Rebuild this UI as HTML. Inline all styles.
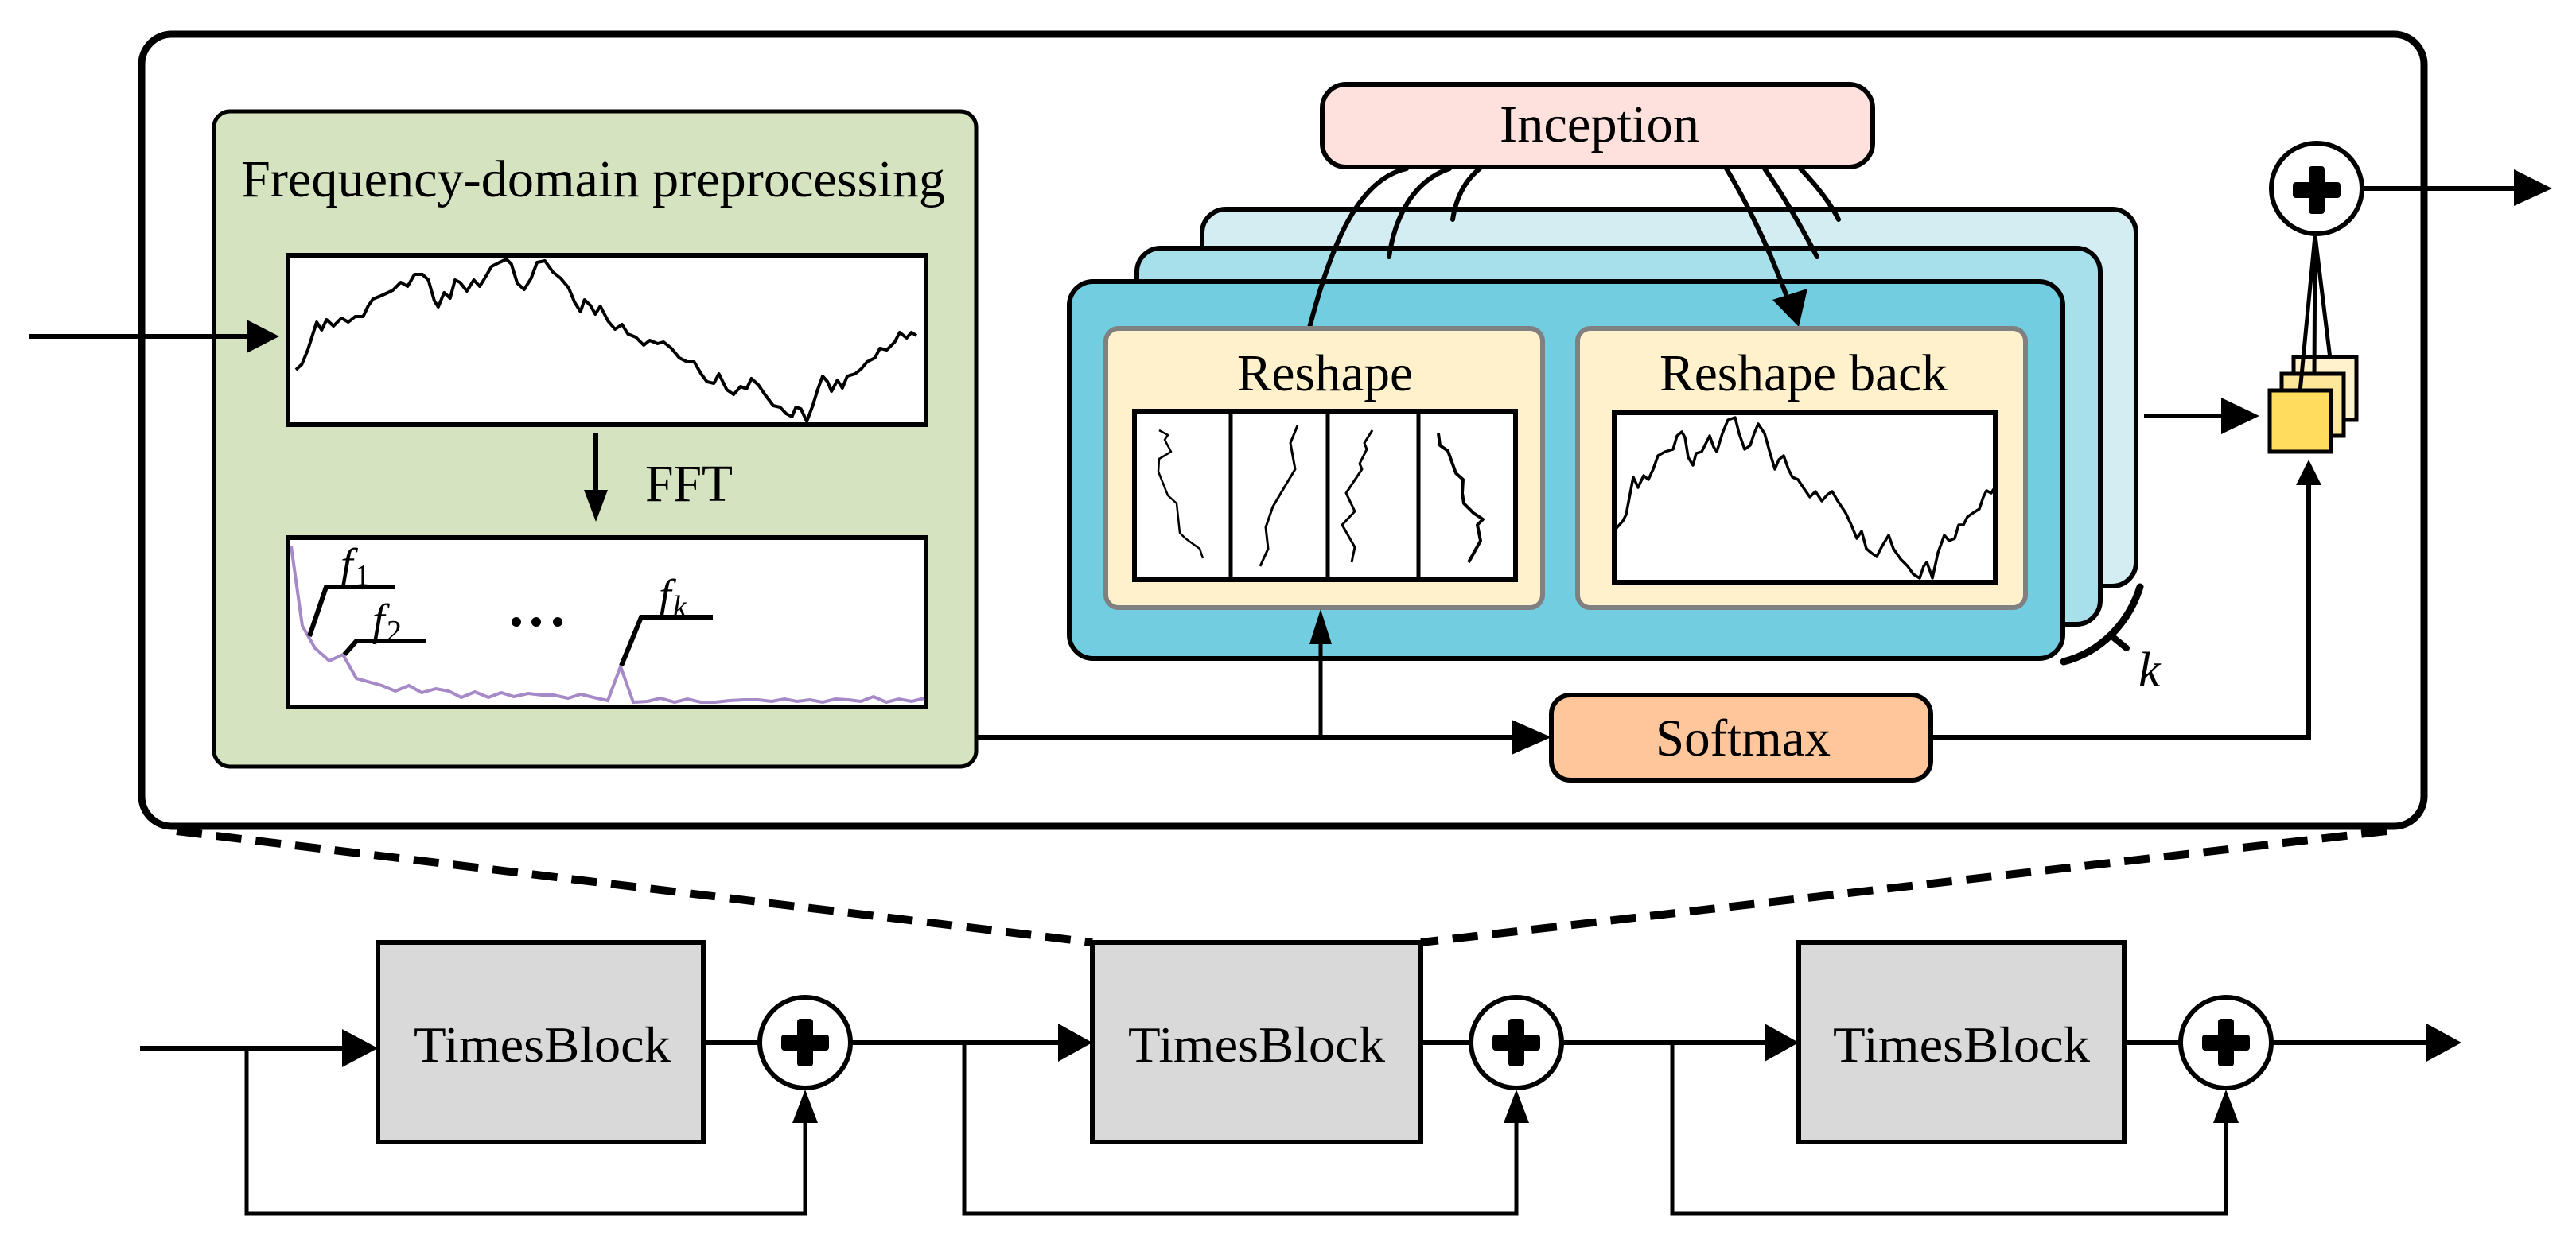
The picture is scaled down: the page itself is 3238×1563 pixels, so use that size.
<!DOCTYPE html>
<html><head><meta charset="utf-8"><style>
html,body{margin:0;padding:0;background:#fff;}
svg{display:block;}
text{font-family:"Liberation Serif","Times New Roman",serif;fill:#000;}
</style></head><body>
<svg width="3238" height="1563" viewBox="0 0 3238 1563" xmlns="http://www.w3.org/2000/svg">
<!-- outer box -->
<rect x="178" y="43" width="2869" height="996" rx="38" fill="#fff" stroke="#000" stroke-width="9"/>
<!-- dashed zoom lines -->
<line x1="222" y1="1045" x2="1373" y2="1185" stroke="#000" stroke-width="10" stroke-dasharray="32 18"/>
<line x1="3000" y1="1045" x2="1786" y2="1185" stroke="#000" stroke-width="10" stroke-dasharray="32 18"/>

<!-- green box -->
<rect x="269" y="140" width="958" height="824" rx="20" fill="#d5e3c0" stroke="#000" stroke-width="5"/>
<text x="303" y="247" font-size="66" textLength="885" lengthAdjust="spacingAndGlyphs">Frequency-domain preprocessing</text>
<!-- signal box -->
<rect x="362" y="321" width="802" height="213" fill="#fff" stroke="#000" stroke-width="6"/>
<g transform="translate(372,0) scale(1.242,1) translate(-372,0)">
<polyline fill="none" stroke="#000" stroke-width="4" stroke-linejoin="round" vector-effect="non-scaling-stroke" points="372,465 378,458 384,440 393,405 398,415 403,402 410,410 418,400 425,405 432,398 440,398 445,385 450,376 458,372 465,368 470,365 478,355 485,360 492,345 500,345 506,352 512,378 516,386 522,368 528,375 533,352 538,355 545,366 552,352 558,360 563,350 570,335 578,330 585,326 590,332 596,356 603,364 610,350 616,330 624,328 632,342 640,350 648,362 654,380 660,392 664,377 670,384 675,395 680,385 688,404 695,414 702,408 708,420 716,424 724,434 730,428 738,432 744,430 752,438 760,450 768,455 775,455 782,470 788,480 795,482 800,470 808,490 815,496 822,486 828,489 833,476 840,484 846,495 855,510 862,512 868,520 874,524 878,512 883,514 889,530 895,510 900,490 905,473 910,480 914,492 920,478 925,488 930,473 938,470 944,464 950,455 958,450 963,438 970,440 978,430 983,418 990,425 995,418 1000,422"/>
</g>
<!-- FFT arrow -->
<line x1="749" y1="544" x2="749" y2="620" stroke="#000" stroke-width="6"/>
<polygon points="734,616 764,616 749,656" fill="#000"/>
<text x="811" y="630" font-size="66" textLength="110" lengthAdjust="spacingAndGlyphs">FFT</text>
<!-- spectrum box -->
<rect x="362" y="676" width="802" height="213" fill="#fff" stroke="#000" stroke-width="6"/>
<polyline fill="none" stroke="#a68ac8" stroke-width="4" points="366,687 380,787 396,815 414,831 431,823 448,853 480,862 497,869 514,862 530,871 548,866 564,869 580,877 597,870 614,877 630,871 646,876 664,872 681,874 696,874 714,878 730,873 746,877 764,881 780,838 796,883 814,882 830,878 848,883 864,879 881,883 899,883 917,881 935,880 953,880 970,882 986,879 1002,882 1018,880 1034,883 1050,879 1066,880 1082,882 1098,876 1114,883 1130,879 1146,882 1162,878"/>
<polyline fill="none" stroke="#000" stroke-width="6" points="389,800 410,738 496,738"/>
<polyline fill="none" stroke="#000" stroke-width="6" points="433,823 448,806 535,806"/>
<polyline fill="none" stroke="#000" stroke-width="6" points="781,837 806,776 896,776"/>
<text x="428" y="728" font-size="56" font-style="italic">f</text><text x="446" y="736" font-size="38">1</text>
<text x="468" y="798" font-size="56" font-style="italic">f</text><text x="486" y="806" font-size="38">2</text>
<text x="828" y="767" font-size="56" font-style="italic">f</text><text x="846" y="775" font-size="38" font-style="italic">k</text>
<circle cx="649" cy="782" r="6" fill="#000"/><circle cx="674" cy="782" r="6" fill="#000"/><circle cx="701" cy="782" r="6" fill="#000"/>
<!-- input arrow -->
<line x1="36" y1="423" x2="320" y2="423" stroke="#000" stroke-width="6"/>
<polygon points="310,402 351,423 310,444" fill="#000"/>

<!-- layers -->
<rect x="1511" y="263" width="1174" height="474" rx="30" fill="#d4edf2" stroke="#000" stroke-width="6"/>
<rect x="1429" y="312" width="1211" height="473" rx="30" fill="#a7dfea" stroke="#000" stroke-width="6"/>
<rect x="1344" y="354" width="1249" height="474" rx="30" fill="#71cddf" stroke="#000" stroke-width="6"/>
<!-- inception -->
<rect x="1662" y="106" width="692" height="104" rx="30" fill="#fee0dc" stroke="#000" stroke-width="6"/>
<text x="1885" y="178" font-size="66" textLength="251" lengthAdjust="spacingAndGlyphs">Inception</text>
<!-- curves -->
<g fill="none" stroke="#000" stroke-width="6" stroke-linecap="round">
<path d="M1646,412 C1675,300 1710,225 1768,212"/>
<path d="M1746,323 C1753,275 1775,228 1822,212"/>
<path d="M1826,276 C1830,250 1840,228 1860,212"/>
<path d="M2170,212 C2205,270 2235,340 2252,390"/>
<path d="M2218,212 C2248,255 2272,300 2284,323"/>
<path d="M2263,212 C2285,235 2302,258 2311,276"/>
</g>
<polygon points="2261,411 2228,377 2272,363" fill="#000"/>
<!-- reshape -->
<rect x="1390" y="413" width="549" height="351" rx="16" fill="#fff1cc" stroke="#808080" stroke-width="6"/>
<text x="1555" y="491" font-size="66" textLength="221" lengthAdjust="spacingAndGlyphs">Reshape</text>
<rect x="1426" y="517" width="479" height="212" fill="#fff" stroke="#000" stroke-width="6"/>
<line x1="1547" y1="517" x2="1547" y2="729" stroke="#000" stroke-width="5"/>
<line x1="1669" y1="517" x2="1669" y2="729" stroke="#000" stroke-width="5"/>
<line x1="1783" y1="517" x2="1783" y2="729" stroke="#000" stroke-width="5"/>
<g fill="none" stroke="#000" stroke-width="2.5" stroke-linejoin="round">
<polyline points="1457,541 1468,547 1464,553 1472,568 1457,577 1456,593 1468,623 1479,633 1483,670 1490,677 1508,690 1512,702"/>
<polyline stroke-width="3" points="1631,535 1622,557 1628,590 1616,610 1600,637 1591,663 1594,690 1584,712"/>
<polyline stroke-width="3" points="1725,541 1715,557 1718,565 1709,583 1712,590 1692,620 1703,643 1687,660 1703,688 1699,707"/>
<polyline stroke-width="4" points="1808,545 1810,560 1820,567 1830,595 1839,603 1838,620 1840,633 1852,645 1864,653 1857,660 1861,680 1846,707"/>
</g>
<!-- reshape back -->
<rect x="1983" y="413" width="563" height="351" rx="16" fill="#fff1cc" stroke="#808080" stroke-width="6"/>
<text x="2086" y="491" font-size="66" textLength="362" lengthAdjust="spacingAndGlyphs">Reshape back</text>
<rect x="2029" y="519" width="479" height="213" fill="#fff" stroke="#000" stroke-width="6"/>
<polyline fill="none" stroke="#000" stroke-width="3.5" stroke-linejoin="round" points="2031,665 2040,655 2044,647 2053,600 2059,613 2066,598 2072,603 2078,590 2084,573 2093,568 2103,565 2108,548 2114,543 2118,550 2122,575 2128,585 2132,570 2139,568 2143,560 2149,548 2154,562 2158,568 2165,545 2172,528 2181,525 2186,545 2193,565 2200,560 2205,545 2210,533 2218,545 2225,570 2231,590 2236,578 2242,573 2248,590 2253,600 2260,603 2268,615 2275,625 2282,618 2290,630 2297,622 2303,618 2310,630 2320,645 2327,660 2334,677 2340,668 2346,690 2352,695 2359,700 2365,688 2374,673 2380,690 2389,703 2398,712 2405,722 2413,727 2418,712 2422,707 2426,718 2429,727 2436,695 2444,673 2450,680 2457,677 2462,660 2468,660 2473,650 2480,645 2488,640 2493,625 2497,617 2503,620 2506,615"/>
<!-- k arc -->
<path d="M2690,738 C2675,785 2640,820 2594,832" fill="none" stroke="#000" stroke-width="9" stroke-linecap="round"/>
<line x1="2657" y1="802" x2="2673" y2="815" stroke="#000" stroke-width="8" stroke-linecap="round"/>
<text x="2688" y="863" font-size="62" font-style="italic">k</text>

<!-- softmax path -->
<line x1="1227" y1="927" x2="1915" y2="927" stroke="#000" stroke-width="6"/>
<polygon points="1900,905 1950,927 1900,949" fill="#000"/>
<line x1="1660" y1="927" x2="1660" y2="800" stroke="#000" stroke-width="5"/>
<polygon points="1646,810 1674,810 1660,766" fill="#000"/>
<rect x="1950" y="874" width="477" height="107" rx="24" fill="#fec69a" stroke="#000" stroke-width="6"/>
<text x="2081" y="950" font-size="66" textLength="220" lengthAdjust="spacingAndGlyphs">Softmax</text>
<polyline points="2427,927 2902,927 2902,610" fill="none" stroke="#000" stroke-width="6"/>
<polygon points="2886,610 2918,610 2902,578" fill="#000"/>
<!-- arrow into squares -->
<line x1="2695" y1="523" x2="2815" y2="523" stroke="#000" stroke-width="6"/>
<polygon points="2792,500 2840,523 2792,546" fill="#000"/>
<!-- squares -->
<rect x="2883" y="449" width="79" height="79" fill="#fff2cc" stroke="#000" stroke-width="5"/>
<rect x="2868" y="470" width="78" height="78" fill="#ffe79a" stroke="#000" stroke-width="5"/>
<rect x="2853" y="491" width="77" height="77" fill="#ffdb5e" stroke="#000" stroke-width="5"/>
<g stroke="#000" stroke-width="5">
<line x1="2910" y1="296" x2="2891" y2="493"/>
<line x1="2910" y1="296" x2="2909" y2="472"/>
<line x1="2910" y1="296" x2="2929" y2="451"/>
</g>
<!-- top plus -->
<circle cx="2912" cy="237" r="57" fill="#fff" stroke="#000" stroke-width="6"/>
<rect x="2882" y="229" width="60" height="20" rx="4" fill="#000"/>
<rect x="2902" y="209" width="20" height="60" rx="4" fill="#000"/>
<line x1="2969" y1="237" x2="3170" y2="237" stroke="#000" stroke-width="6"/>
<polygon points="3160,213 3208,237 3160,259" fill="#000"/>

<!-- bottom row -->
<g stroke="#000" fill="none" stroke-width="6">
<line x1="176" y1="1318" x2="440" y2="1318"/>
<line x1="1069" y1="1311" x2="1340" y2="1311"/>
<line x1="1963" y1="1311" x2="2230" y2="1311"/>
<line x1="884" y1="1311" x2="955" y2="1311"/>
<line x1="1786" y1="1311" x2="1849" y2="1311"/>
<line x1="2670" y1="1311" x2="2741" y2="1311"/>
<line x1="2855" y1="1311" x2="3060" y2="1311"/>
</g>
<g stroke="#000" fill="none" stroke-width="5">
<polyline points="310,1318 310,1526 1012,1526 1012,1400"/>
<polyline points="1212,1311 1212,1526 1906,1526 1906,1400"/>
<polyline points="2102,1311 2102,1526 2798,1526 2798,1400"/>
</g>
<polygon points="430,1294 475,1318 430,1342" fill="#000"/>
<polygon points="1330,1287 1373,1311 1330,1335" fill="#000"/>
<polygon points="2218,1287 2261,1311 2218,1335" fill="#000"/>
<polygon points="3050,1287 3094,1311 3050,1335" fill="#000"/>
<polygon points="996,1412 1028,1412 1012,1370" fill="#000"/>
<polygon points="1890,1412 1922,1412 1906,1370" fill="#000"/>
<polygon points="2782,1412 2814,1412 2798,1370" fill="#000"/>
<rect x="475" y="1185" width="409" height="251" fill="#d9d9d9" stroke="#000" stroke-width="6"/>
<rect x="1373" y="1185" width="413" height="251" fill="#d9d9d9" stroke="#000" stroke-width="6"/>
<rect x="2261" y="1185" width="409" height="251" fill="#d9d9d9" stroke="#000" stroke-width="6"/>
<text x="520" y="1335" font-size="64" textLength="323" lengthAdjust="spacingAndGlyphs">TimesBlock</text>
<text x="1418" y="1335" font-size="64" textLength="323" lengthAdjust="spacingAndGlyphs">TimesBlock</text>
<text x="2304" y="1335" font-size="64" textLength="323" lengthAdjust="spacingAndGlyphs">TimesBlock</text>
<g>
<circle cx="1012" cy="1311" r="57" fill="#fff" stroke="#000" stroke-width="6"/>
<rect x="982" y="1301" width="60" height="20" rx="4" fill="#000"/><rect x="1002" y="1281" width="20" height="60" rx="4" fill="#000"/>
<circle cx="1906" cy="1311" r="57" fill="#fff" stroke="#000" stroke-width="6"/>
<rect x="1876" y="1301" width="60" height="20" rx="4" fill="#000"/><rect x="1896" y="1281" width="20" height="60" rx="4" fill="#000"/>
<circle cx="2798" cy="1311" r="57" fill="#fff" stroke="#000" stroke-width="6"/>
<rect x="2768" y="1301" width="60" height="20" rx="4" fill="#000"/><rect x="2788" y="1281" width="20" height="60" rx="4" fill="#000"/>
</g>
</svg>
</body></html>
